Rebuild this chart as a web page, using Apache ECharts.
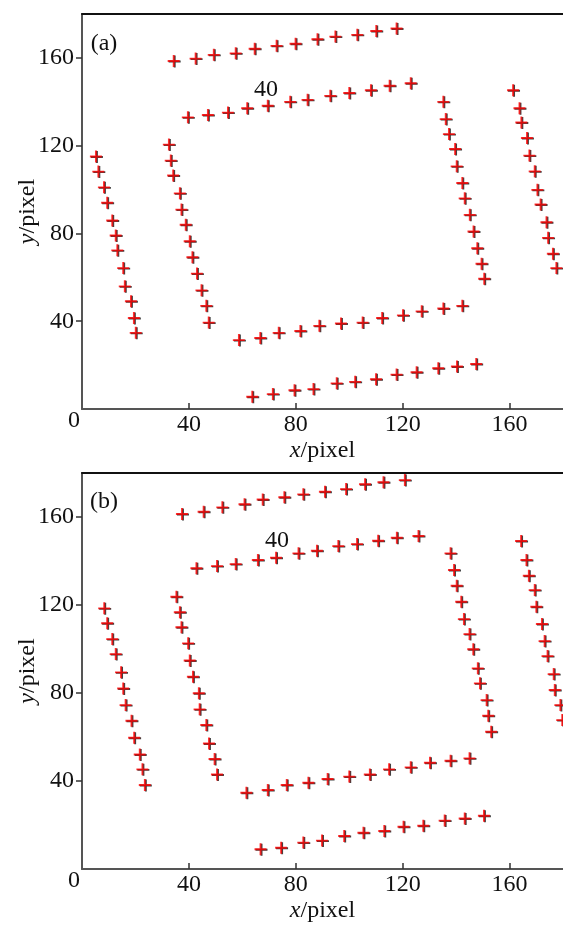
<html>
<head>
<meta charset="utf-8">
<script src="https://cdn.jsdelivr.net/npm/echarts@6/dist/echarts.min.js"></script>
</head>
<body>
<style>
    html, body, #main {
        width: 100%;
        height: 100%;
        margin: 0;
        background: #fff;
        overflow: hidden;
    }
</style>
<div id="main"></div>
<script>
    // panel (a): eight rows/columns of 12 detected corners each
    var aTop = [[34.3,158.6],[42.5,159.7],[49.3,161.4],[57.5,162.1],[64.6,164.2],[72.8,165.5],[79.9,166.5],[88.1,168.5],[94.8,169.7],[103.0,170.5],[110.1,172.3],[117.7,173.4]];
    var aUpper = [[39.6,132.9],[47.1,134.0],[54.6,135.1],[61.8,137.1],[69.5,138.2],[77.9,140.0],[84.4,140.9],[92.9,142.7],[100.0,144.0],[108.1,145.3],[115.1,147.3],[123.0,148.5]];
    var aRightIn = [[135.2,140.0],[136.1,132.1],[137.3,125.3],[139.6,118.5],[140.2,110.6],[142.3,103.0],[143.2,96.0],[145.1,88.5],[146.5,80.9],[147.9,73.3],[149.5,66.2],[150.5,59.4]];
    var aRightOut = [[161.3,145.3],[163.7,137.1],[164.4,130.6],[166.5,123.5],[167.4,115.5],[169.4,108.3],[170.4,99.9],[171.6,93.2],[173.8,85.1],[174.4,78.0],[176.2,70.8],[177.5,64.2]];
    var aLower = [[58.7,31.4],[66.7,32.4],[73.6,34.7],[81.7,35.6],[88.8,37.9],[96.9,39.0],[105.0,39.4],[112.3,41.5],[120.1,42.7],[127.1,44.5],[135.2,45.8],[142.3,47.0]];
    var aBottom = [[63.7,5.6],[71.4,6.8],[79.5,8.6],[86.6,9.1],[95.3,11.7],[102.2,12.4],[110.0,13.6],[117.7,15.7],[125.2,16.8],[133.3,18.6],[140.3,19.4],[147.5,20.5]];
    var aLeftOut = [[5.2,115.1],[6.1,108.2],[8.2,101.0],[9.4,94.0],[11.3,85.9],[12.6,79.1],[13.2,72.3],[15.4,64.2],[16.0,55.9],[18.3,49.1],[19.4,41.5],[20.1,34.7]];
    var aLeftIn = [[32.5,120.5],[33.2,113.2],[34.1,106.4],[36.6,98.3],[37.2,90.9],[38.8,84.0],[40.3,76.5],[41.3,69.2],[43.0,61.7],[44.7,54.1],[46.5,47.0],[47.4,39.4]];

    // panel (b)
    var bTop = [[37.4,161.4],[45.5,162.4],[52.5,164.4],[60.8,165.8],[67.6,168.0],[75.7,169.0],[82.8,170.3],[90.9,171.5],[98.8,172.7],[105.9,174.9],[112.8,175.8],[120.8,176.8]];
    var bUpper = [[42.8,136.7],[50.5,137.7],[57.5,138.6],[65.8,140.5],[72.6,141.5],[81.0,143.5],[87.9,144.7],[95.9,146.8],[102.9,147.7],[110.8,149.2],[117.8,150.6],[125.9,151.4]];
    var bRightIn = [[137.9,143.5],[139.2,135.9],[140.2,128.8],[141.9,121.5],[142.9,113.6],[145.0,106.8],[146.4,99.9],[148.1,91.2],[148.9,84.4],[151.4,76.8],[152.0,69.7],[153.1,62.4]];
    var bRightOut = [[164.3,149.1],[166.3,140.5],[167.2,133.3],[169.4,126.8],[170.0,119.2],[172.1,111.4],[173.1,103.6],[174.2,96.8],[176.5,88.6],[176.9,81.4],[179.0,74.5],[179.7,67.7]];
    var bLower = [[61.5,34.7],[69.5,35.9],[76.6,38.2],[84.7,39.2],[91.9,40.9],[100.0,42.0],[107.7,43.0],[114.9,45.3],[123.0,46.2],[130.2,48.3],[137.9,49.2],[145.0,50.3]];
    var bBottom = [[66.8,9.0],[74.5,9.7],[82.8,12.0],[89.8,12.9],[98.1,15.0],[105.3,16.5],[113.1,17.3],[120.3,19.2],[127.7,19.7],[135.7,22.0],[143.2,23.0],[150.4,24.2]];
    var bLeftOut = [[8.3,118.5],[9.4,111.7],[11.3,104.5],[12.6,97.7],[14.6,89.4],[15.4,82.1],[16.3,74.5],[18.5,67.4],[19.5,59.7],[21.6,52.1],[22.6,45.3],[23.5,38.2]];
    var bLeftIn = [[35.3,123.8],[36.6,116.7],[37.2,109.9],[39.7,102.6],[40.3,94.8],[41.5,87.4],[43.7,79.9],[44.0,72.6],[46.5,65.5],[47.5,57.1],[49.6,50.0],[50.5,43.0]];

    var tickValues = [40, 80, 120, 160];

    var FONT = 'Liberation Serif';
    var FS = 24;
    var PLUS = 'path://M0,5.1h12v1.9h-12zM5.1,0h1.9v12h-1.9z';

    var pointsA = [].concat(aTop, aUpper, aRightIn, aRightOut, aLower, aBottom, aLeftOut, aLeftIn);
    var pointsB = [].concat(bTop, bUpper, bRightIn, bRightOut, bLower, bBottom, bLeftOut, bLeftIn);

    var nameStyle = {
        color: '#111', fontFamily: FONT, fontSize: FS,
        rich: { i: { fontStyle: 'italic', fontFamily: FONT, fontSize: FS, color: '#111' } }
    };

    function xAxisFor(i) {
        return {
            type: 'value', gridIndex: i, min: 0, max: 180,
            axisLine: { show: true, onZero: false, lineStyle: { color: '#555', width: 2 } },
            axisTick: { show: true, inside: true, length: 6, customValues: tickValues, lineStyle: { color: '#333', width: 1.5 } },
            axisLabel: { customValues: tickValues, margin: 4, color: '#111', fontFamily: FONT, fontSize: FS },
            splitLine: { show: false },
            name: '{i|x}/pixel', nameLocation: 'middle', nameGap: 30,
            nameTextStyle: nameStyle
        };
    }
    // top frame line only
    function topAxisFor(i) {
        return {
            type: 'value', gridIndex: i, min: 0, max: 180, position: 'top',
            axisLine: { show: true, onZero: false, lineStyle: { color: '#111', width: 2 } },
            axisTick: { show: false }, axisLabel: { show: false }, splitLine: { show: false }
        };
    }
    function yAxisFor(i) {
        return {
            type: 'value', gridIndex: i, min: 0, max: 180,
            axisLine: { show: true, onZero: false, lineStyle: { color: '#555', width: 2 } },
            axisTick: { show: true, inside: false, length: 6, customValues: tickValues, lineStyle: { color: '#333', width: 1.5 } },
            axisLabel: { customValues: tickValues, margin: 8, color: '#111', fontFamily: FONT, fontSize: FS },
            splitLine: { show: false },
            name: '{i|y}/pixel', nameLocation: 'middle', nameGap: 42, nameRotate: 90,
            nameMoveOverlap: false,
            nameTextStyle: nameStyle
        };
    }
    function marks(i, data) {
        return [{
            type: 'scatter', xAxisIndex: i, yAxisIndex: i, data: data,
            symbol: PLUS, symbolSize: 12, symbolOffset: [1, 0.5],
            itemStyle: { color: '#111' }, silent: true, z: 2
        }, {
            type: 'scatter', xAxisIndex: i, yAxisIndex: i, data: data,
            symbol: PLUS, symbolSize: 12,
            itemStyle: { color: '#f00' }, silent: true, z: 3
        }];
    }

    var chart = echarts.init(document.getElementById('main'));
    function label(x, y, t) {
        return {
            type: 'text', x: x, y: y,
            style: { text: t, fill: '#111', font: FS + 'px "Liberation Serif"', textAlign: 'center', textVerticalAlign: 'middle' }
        };
    }

    chart.setOption({
        animation: false,
        grid: [
            { left: 82, top: 14, width: 482, height: 395 },
            { left: 82, top: 473, width: 482, height: 396 }
        ],
        xAxis: [xAxisFor(0), xAxisFor(1), topAxisFor(0), topAxisFor(1)],
        yAxis: [yAxisFor(0), yAxisFor(1)],
        series: marks(0, pointsA).concat(marks(1, pointsB)),
        graphic: [
            label(104, 44, '(a)'),
            label(266, 90, '40'),
            label(74, 421, '0'),
            label(104, 502, '(b)'),
            label(277, 541, '40'),
            label(74, 881, '0')
        ]
    });

    window.onresize = chart.resize;
</script>
</body>
</html>
